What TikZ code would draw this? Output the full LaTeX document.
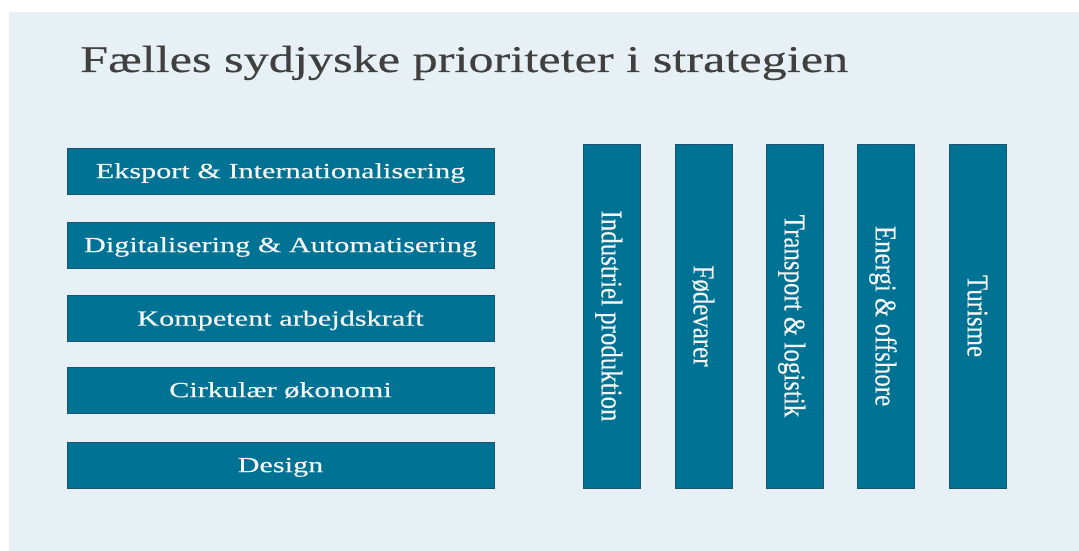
\documentclass[tikz,border=0pt]{standalone}
\usepackage{fontspec}
\setmainfont[FakeBold=0.3]{Liberation Serif}
\usepackage{graphicx}
\definecolor{panel}{RGB}{231,240,244}
\definecolor{boxblue}{RGB}{0,114,148}
\definecolor{boxedge}{RGB}{25,85,110}
\definecolor{titlegray}{RGB}{64,64,64}
\definecolor{boxtext}{RGB}{245,245,245}
\newcommand{\htxt}[1]{\scalebox{1.4}[1]{\fontsize{21.6}{26}\selectfont #1}}
\newcommand{\vtxt}[1]{\scalebox{1}[1.21]{\fontsize{24.9}{30}\selectfont #1}}
\tikzset{
  rowbox/.style={draw=boxedge, line width=0.8pt, fill=boxblue, minimum width=427pt, minimum height=46pt, inner sep=0pt, text=boxtext, text height=14.3pt, text depth=0pt},
  colbox/.style={draw=boxedge, line width=0.8pt, fill=boxblue, minimum width=344pt, minimum height=57pt, inner sep=0pt, text=boxtext, rotate=-90, text height=19.9pt, text depth=0pt}
}
\begin{document}
\begin{tikzpicture}[x=1pt,y=-1pt]
\useasboundingbox (0,0) rectangle (1079,551);
\fill[white] (0,0) rectangle (1079,551);
\fill[panel] (9,12) rectangle (1079,551);
\node[anchor=base west, text=titlegray, inner sep=0pt] (title) at (80,72) {\scalebox{1.33}[1]{\fontsize{37.8}{44}\selectfont Fælles sydjyske prioriteter i strategien}};
\node[rowbox] (r1) at (280.5,171) {\htxt{Eksport \& Internationalisering}};
\node[rowbox] (r2) at (280.5,245) {\htxt{Digitalisering \& Automatisering}};
\node[rowbox] (r3) at (280.5,318.5) {\htxt{Kompetent arbejdskraft}};
\node[rowbox] (r4) at (280.5,390) {\htxt{Cirkulær økonomi}};
\node[rowbox] (r5) at (280.5,465) {\htxt{Design}};
\node[colbox] (c1) at (611.5,316) {\vtxt{Industriel produktion}};
\node[colbox] (c2) at (703.5,316) {\vtxt{Fødevarer}};
\node[colbox] (c3) at (794.5,316) {\vtxt{Transport \& logistik}};
\node[colbox] (c4) at (885.5,316) {\vtxt{Energi \& offshore}};
\node[colbox] (c5) at (977.5,316) {\vtxt{Turisme}};
\end{tikzpicture}
\end{document}
